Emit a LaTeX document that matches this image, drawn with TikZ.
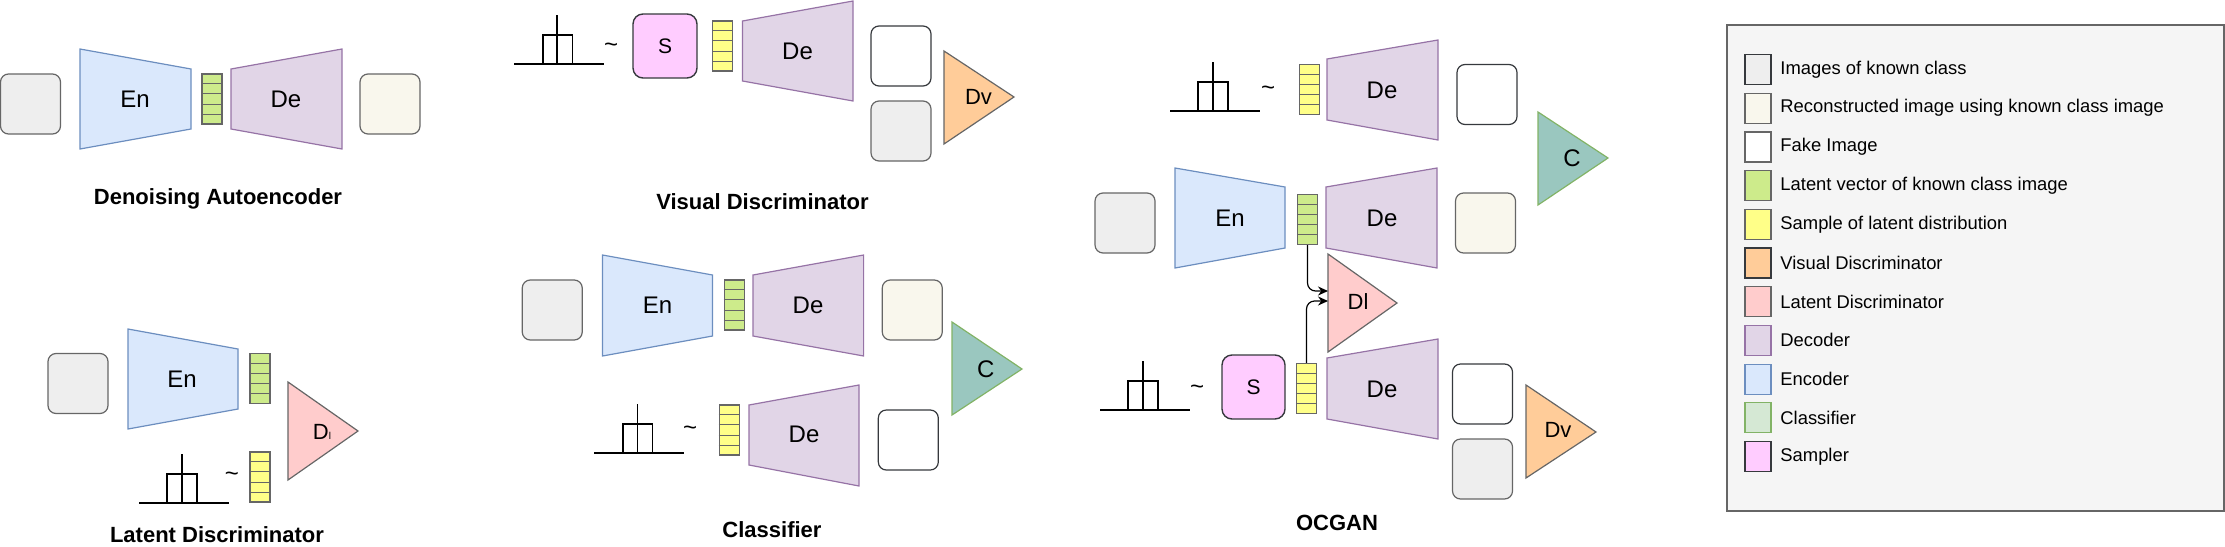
\documentclass[tikz,border=0pt]{standalone}
\usepackage{fontspec}
\setmainfont{Liberation Sans}
\usetikzlibrary{calc,arrows.meta}

\definecolor{knownfill}{HTML}{EEEEEE}
\definecolor{reconfill}{HTML}{F9F7ED}
\definecolor{latgreen}{HTML}{CDEB8B}
\definecolor{sampyellow}{HTML}{FFFF88}
\definecolor{encfill}{HTML}{DAE8FC}
\definecolor{encline}{HTML}{6C8EBF}
\definecolor{decfill}{HTML}{E1D5E7}
\definecolor{decline}{HTML}{9673A6}
\definecolor{dvfill}{HTML}{FFCC99}
\definecolor{dlfill}{HTML}{FFCCCC}
\definecolor{cfill}{HTML}{9AC7BF}
\definecolor{cline}{HTML}{82B366}
\definecolor{clegfill}{HTML}{D5E8D4}
\definecolor{sfill}{HTML}{FFCCFF}
\definecolor{darkline}{HTML}{36393D}
\definecolor{grayline}{HTML}{666666}
\definecolor{legfill}{HTML}{F5F5F5}

\tikzset{
  imgbase/.style={draw=grayline, rounded corners=4pt, minimum width=30pt, minimum height=30pt, inner sep=0pt, line width=0.6pt},
  known/.style={imgbase, fill=knownfill},
  recon/.style={imgbase, fill=reconfill},
  fake/.style={imgbase, draw=darkline, fill=white},
  vecbase/.style={draw=grayline, minimum width=10pt, minimum height=25pt, inner sep=0pt, line width=0.6pt},
  latvec/.style={vecbase, fill=latgreen},
  sampvec/.style={vecbase, fill=sampyellow},
  enc/.style={draw=encline, fill=encfill, line width=0.6pt},
  dec/.style={draw=decline, fill=decfill, line width=0.6pt},
  dvtri/.style={draw=grayline, fill=dvfill, line width=0.6pt},
  dltri/.style={draw=grayline, fill=dlfill, line width=0.6pt},
  ctri/.style={draw=cline, fill=cfill, line width=0.6pt},
  sampler/.style={draw=darkline, fill=sfill, rounded corners=5pt, minimum width=32pt, minimum height=32pt, inner sep=0pt, line width=0.7pt, font=\fontsize{10.5}{12}\selectfont},
  lbl/.style={inner sep=0pt, font=\fontsize{12}{14}\selectfont},
  tlbl/.style={inner sep=0pt, font=\fontsize{11}{13}\selectfont},
  tildelbl/.style={inner sep=0pt, font=\fontsize{12}{14}\selectfont},
  caption/.style={inner sep=0pt, font=\fontsize{11}{13}\selectfont\bfseries},
  distline/.style={draw=black, line width=0.6pt},
  legsq/.style={minimum width=13pt, minimum height=15pt, inner sep=0pt, line width=0.6pt},
  legtxt/.style={anchor=west, inner sep=0pt, font=\fontsize{9.2}{11}\selectfont},
  flow/.style={-{Stealth[length=5pt,width=4.5pt]}, rounded corners=4pt, line width=0.6pt, draw=black},
}

\newcommand\cells[1]{%
  \foreach \i in {1,...,4}{%
    \draw[grayline, line width=0.6pt] ($(#1.north west)!\i/5!(#1.south west)$) -- ($(#1.north east)!\i/5!(#1.south east)$);}}
% #1 baseline left, #2 baseline right, #3 baseline y, #4 box left, #5 box right, #6 vertical x
\newcommand\distsym[6]{%
  \draw[distline] (#1,#3) -- (#2,#3);
  \draw[distline] (#4,#3) -- (#4,#3-29) -- (#5,#3-29) -- (#5,#3);
  \draw[distline] (#6,#3-49) -- (#6,#3+1);}

\begin{document}
\begin{tikzpicture}[x=0.5pt,y=-0.5pt]
\useasboundingbox (0,0) rectangle (2225,546);

% ---------------- Denoising Autoencoder ----------------
\node[known] (k1) at (30.5,104) {};
\path[enc] (80,49) -- (191,69) -- (191,129) -- (80,149) -- cycle;
\node[lbl] (en1) at (135,99) {En};
\node[latvec] (g1) at (212,99) {};
\cells{g1}
\path[dec] (231,69) -- (342,49) -- (342,149) -- (231,129) -- cycle;
\node[lbl] (de1) at (286,99) {De};
\node[recon] (r1) at (390,104) {};
\node[caption] (cap1) at (218,199) {Denoising Autoencoder};

% ---------------- Latent Discriminator ----------------
\node[known] (k2) at (78,383.5) {};
\path[enc] (128,329) -- (238,349) -- (238,409) -- (128,429) -- cycle;
\node[lbl] (en2) at (182,379) {En};
\node[latvec] (g2) at (260,378.5) {};
\cells{g2}
\path[dltri] (288,382) -- (358,431) -- (288,480) -- cycle;
\node[tlbl] (dl1) at (322,432) {D{\fontsize{5}{6}\selectfont l}};
\distsym{139}{229}{503}{167}{197}{182}
\node[tildelbl] (t2) at (232,477) {\textasciitilde};
\node[sampvec] (y2) at (260,477) {};
\cells{y2}
\node[caption] (cap2) at (217,535) {Latent Discriminator};

% ---------------- Visual Discriminator ----------------
\distsym{514}{604}{64}{543}{572.5}{557}
\node[tildelbl] (t3) at (611,48) {\textasciitilde};
\node[sampler] (s1) at (665,46) {S};
\node[sampvec] (y3) at (722.5,46) {};
\cells{y3}
\path[dec] (742.5,21) -- (853,1) -- (853,101) -- (742.5,81) -- cycle;
\node[lbl] (de2) at (797.5,51) {De};
\node[fake] (f1) at (901,56) {};
\node[known] (k3) at (901,131) {};
\path[dvtri] (944,51) -- (1014,97) -- (944,144) -- cycle;
\node[tlbl] (dv1) at (978.5,97) {Dv};
\node[caption] (cap3) at (762.5,202) {Visual Discriminator};

% ---------------- Classifier ----------------
\node[known] (k4) at (552.25,310) {};
\path[enc] (602.5,255) -- (712.5,275) -- (712.5,336) -- (602.5,356) -- cycle;
\node[lbl] (en3) at (657.5,305) {En};
\node[latvec] (g4) at (734.3,305) {};
\cells{g4}
\path[dec] (753,275) -- (863.6,255) -- (863.6,356) -- (753,336) -- cycle;
\node[lbl] (de3) at (808,305) {De};
\node[recon] (r2) at (912.25,310) {};
\path[ctri] (952,322) -- (1022,369) -- (952,415) -- cycle;
\node[lbl] (c1) at (985.7,369) {C};
\distsym{594}{684}{453}{623}{652.5}{637.5}
\node[tildelbl] (t4) at (690,431) {\textasciitilde};
\node[sampvec] (y4) at (729.3,430) {};
\cells{y4}
\path[dec] (749,405) -- (859,385) -- (859,486) -- (749,465) -- cycle;
\node[lbl] (de4) at (804,434) {De};
\node[fake] (f2) at (908.3,440) {};
\node[caption] (cap4) at (772,530) {Classifier};

% ---------------- OCGAN ----------------
\distsym{1170}{1260}{111}{1198}{1228}{1213}
\node[tildelbl] (t5) at (1268,91) {\textasciitilde};
\node[sampvec] (y5) at (1309.5,89.5) {};
\cells{y5}
\path[dec] (1327,59) -- (1438,40) -- (1438,140) -- (1327,120) -- cycle;
\node[lbl] (de5) at (1382,90) {De};
\node[fake] (f3) at (1487,94.5) {};
\path[ctri] (1538,112) -- (1608,158) -- (1538,205) -- cycle;
\node[lbl] (c2) at (1572,158) {C};

\node[known] (k5) at (1125,223) {};
\path[enc] (1175,168) -- (1285,187) -- (1285,248) -- (1175,268) -- cycle;
\node[lbl] (en4) at (1230,218) {En};
\node[latvec] (g5) at (1307.5,219.5) {};
\cells{g5}
\path[dec] (1326,187) -- (1437,168) -- (1437,268) -- (1326,248) -- cycle;
\node[lbl] (de6) at (1382,218) {De};
\node[recon] (r3) at (1485.5,223) {};

\path[dltri] (1328,254) -- (1397,303) -- (1328,352) -- cycle;
\node[tlbl] (dl2) at (1358,302) {Dl};
\coordinate (dlinA) at (1328,291);
\coordinate (dlinB) at (1328,301);

\distsym{1100}{1190}{410}{1128}{1158}{1143}
\node[tildelbl] (t6) at (1197,390) {\textasciitilde};
\node[sampler, minimum width=31.5pt] (s2) at (1253.5,387) {S};
\node[sampvec] (y6) at (1306.5,388.5) {};
\cells{y6}
\path[dec] (1327,358) -- (1438,339) -- (1438,439) -- (1327,419) -- cycle;
\node[lbl] (de7) at (1382,389) {De};
\node[fake] (f4) at (1482.5,394) {};
\node[known] (k6) at (1482.5,469) {};
\path[dvtri] (1526,385) -- (1596,432) -- (1526,478) -- cycle;
\node[tlbl] (dv2) at (1558,430) {Dv};
\node[caption] (cap5) at (1337,523) {OCGAN};

\draw[flow] (g5.south) |- (dlinA);
\draw[flow] (y6.north) |- (dlinB);

% ---------------- Legend ----------------
\node[draw=grayline, fill=legfill, line width=0.7pt, minimum width=248.5pt, minimum height=243pt, inner sep=0pt] (legend) at (1975.5,268) {};
\foreach \n/\fc/\dc/\t [count=\k from 0] in {
  l1/knownfill/darkline/{Images of known class},
  l2/reconfill/grayline/{Reconstructed image using known class image},
  l3/white/grayline/{Fake Image},
  l4/latgreen/grayline/{Latent vector of known class image},
  l5/sampyellow/grayline/{Sample of latent distribution},
  l6/dvfill/darkline/{Visual Discriminator},
  l7/dlfill/grayline/{Latent Discriminator},
  l8/decfill/decline/{Decoder},
  l9/encfill/encline/{Encoder},
  l10/clegfill/cline/{Classifier},
  l11/sfill/darkline/{Sampler}}{
  \node[legsq, fill=\fc, draw=\dc] (\n) at (1758,69.5+38.7*\k) {};
  \node[legtxt] (\n t) at (1780,69.5+38.7*\k) {\t};
}
\end{tikzpicture}
\end{document}
